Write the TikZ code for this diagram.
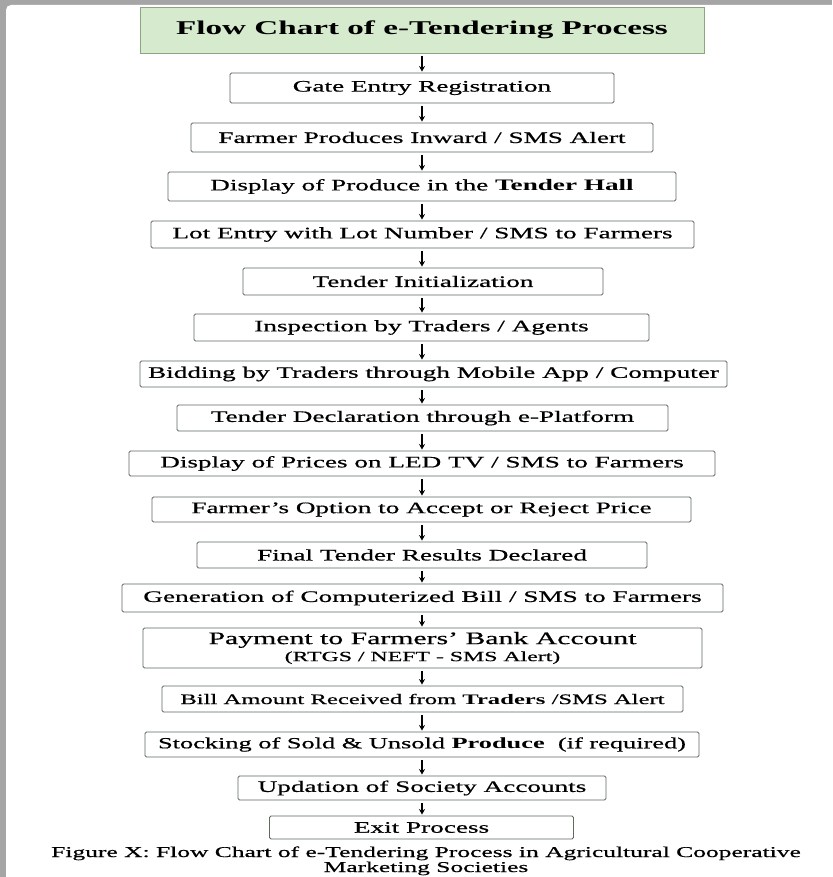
\documentclass[tikz,border=0pt]{standalone}
\usepackage{fontspec}
\setmainfont{Liberation Serif}[FakeStretch=1.7, UprightFeatures={FakeBold=0.6}]
\usetikzlibrary{arrows.meta}

\definecolor{titlefill}{RGB}{214,234,205}
\definecolor{titleline}{RGB}{140,165,130}
\definecolor{boxline}{RGB}{95,105,95}
\definecolor{framegray}{RGB}{165,165,165}

\tikzset{
    stepbox/.style={rectangle, draw=boxline, fill=white, line width=0.9pt, rounded corners=1.5pt, inner sep=0pt, text centered, font=\fontsize{16}{19}\selectfont},
    titlebox/.style={rectangle, draw=titleline, fill=titlefill, line width=0.8pt, inner sep=0pt, text centered, font=\bfseries\fontsize{19.5}{22}\selectfont},
    flowarrow/.style={-{Stealth[length=5.5pt,width=6pt]}, line width=1.1pt, shorten <=3pt, shorten >=1pt},
    captiontext/.style={inner sep=0pt, anchor=base, font=\fontsize{15}{18}\selectfont}
}

\begin{document}
\begin{tikzpicture}[x=1pt, y=-1pt]
    \useasboundingbox (0,0) rectangle (832,877);
    \fill [framegray] (0,0) rectangle (832,877);
    \fill [white, rounded corners=5pt] (6,5) rectangle (850,900);

    \node [titlebox, minimum width=564pt, minimum height=46pt] (title) at (422,30) {Flow Chart of e-Tendering Process};
    \node [stepbox, minimum width=384pt, minimum height=30pt] (gate) at (422,88) {Gate Entry Registration};
    \node [stepbox, minimum width=462pt, minimum height=29pt] (inward) at (422,137.5) {Farmer Produces Inward / SMS Alert};
    \node [stepbox, minimum width=508pt, minimum height=29pt] (display) at (422,186.5) {Display of Produce in the \textbf{Tender Hall}};
    \node [stepbox, minimum width=543pt, minimum height=27pt] (lot) at (422.5,234.5) {Lot Entry with Lot Number / SMS to Farmers};
    \node [stepbox, minimum width=360pt, minimum height=27pt] (init) at (423,281.5) {Tender Initialization};
    \node [stepbox, minimum width=455pt, minimum height=27pt] (inspect) at (421.5,327.5) {Inspection by Traders / Agents};
    \node [stepbox, minimum width=587pt, minimum height=26pt] (bid) at (433.5,374) {Bidding by Traders through Mobile App / Computer};
    \node [stepbox, minimum width=491pt, minimum height=26pt] (declare) at (422.5,418) {Tender Declaration through e-Platform};
    \node [stepbox, minimum width=586pt, minimum height=25pt] (prices) at (422,463.5) {Display of Prices on LED TV / SMS to Farmers};
    \node [stepbox, minimum width=539pt, minimum height=25pt] (option) at (421.5,509.5) {Farmer's Option to Accept or Reject Price};
    \node [stepbox, minimum width=450pt, minimum height=26pt] (results) at (422,555) {Final Tender Results Declared};
    \node [stepbox, minimum width=601pt, minimum height=28pt] (bill) at (422.5,598) {Generation of Computerized Bill / SMS to Farmers};
    \node [stepbox, minimum width=559pt, minimum height=40pt, align=center, font=\fontsize{17.5}{18}\selectfont] (payment) at (422.5,648) {Payment to Farmers' Bank Account\\[-1pt]{\fontsize{14}{16}\selectfont (RTGS / NEFT - SMS Alert)}};
    \node [stepbox, minimum width=521pt, minimum height=26pt, font=\fontsize{14.5}{17}\selectfont] (received) at (422.5,699) {Bill Amount Received from \textbf{Traders} /SMS Alert};
    \node [stepbox, minimum width=554pt, minimum height=25pt, font=\fontsize{15.5}{18}\selectfont] (stocking) at (422,744.5) {Stocking of Sold \& Unsold \textbf{Produce}\ \ (if required)};
    \node [stepbox, minimum width=368pt, minimum height=24pt] (accounts) at (422,788) {Updation of Society Accounts};
    \node [stepbox, minimum width=304pt, minimum height=23pt] (exit) at (421.5,827.5) {Exit Process};

    \node [captiontext] (caption) at (426,857) {Figure X: Flow Chart of e-Tendering Process in Agricultural Cooperative};
    \node [captiontext] (captionb) at (426,872) {Marketing Societies};

    \foreach \a/\b in {title/gate, gate/inward, inward/display, display/lot, lot/init, init/inspect, inspect/bid, bid/declare, declare/prices, prices/option, option/results, results/bill, bill/payment, payment/received, received/stocking, stocking/accounts, accounts/exit}
        \draw [flowarrow] (\a.south -| title.center) -- (\b.north -| title.center);
\end{tikzpicture}
\end{document}
